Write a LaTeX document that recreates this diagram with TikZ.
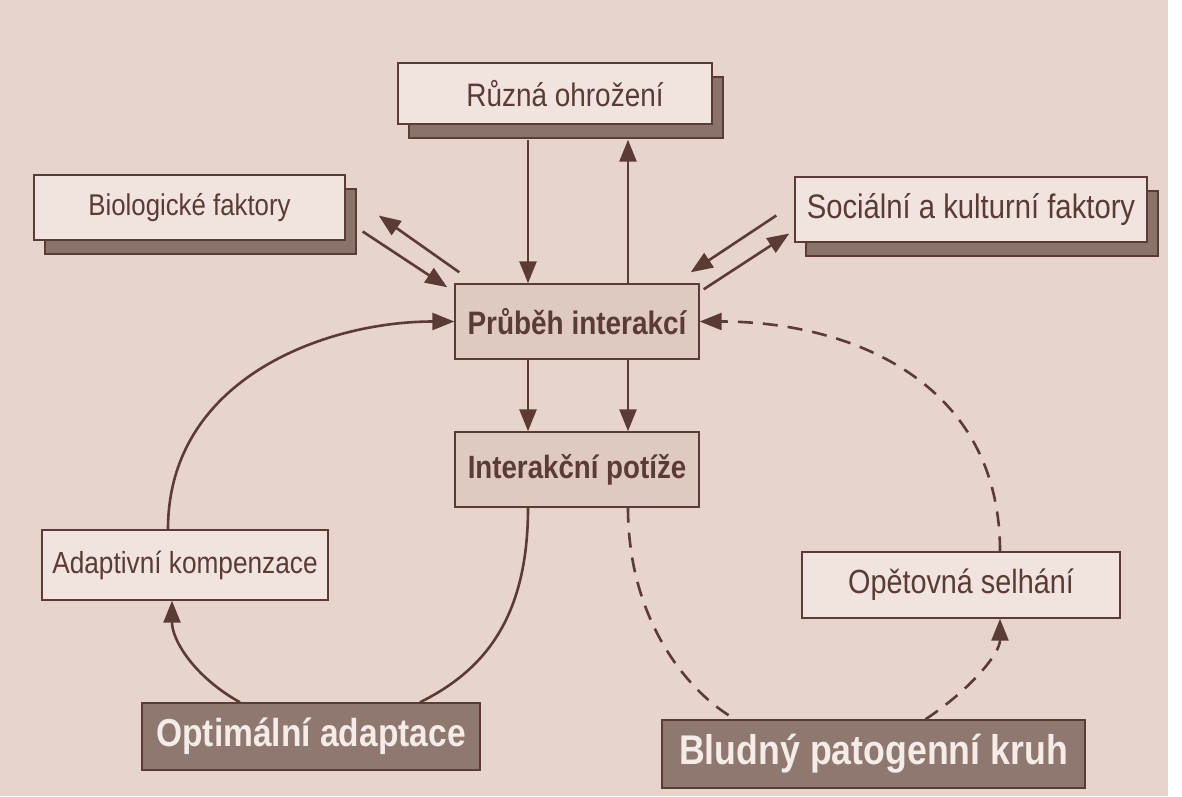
\documentclass[tikz,border=0pt]{standalone}
\usepackage{fontspec}
\setmainfont{Liberation Sans}[FakeStretch=0.86]
\usetikzlibrary{positioning}
\usetikzlibrary{arrows.meta}
\usetikzlibrary{shadows}
\definecolor{papir}{HTML}{E7D4CC}
\definecolor{cara}{HTML}{5A3B35}
\definecolor{svetla}{HTML}{F1E4DE}
\definecolor{stredni}{HTML}{DFCAC1}
\definecolor{tmava}{HTML}{8E7870}
\definecolor{stinc}{HTML}{8A736B}
\definecolor{pismo}{HTML}{F5ECE7}
\tikzset{
  box/.style={draw=cara, line width=1.4pt, fill=svetla, text=cara, inner sep=0pt},
  velikost/.style={font=\fontsize{#1}{#1}\selectfont},
  tucne/.style={font=\fontsize{#1}{#1}\selectfont\bfseries},
  stin/.style={drop shadow={shadow xshift=11pt, shadow yshift=-14pt, fill=stinc,
              draw=cara, opacity=1}},
  hlavni/.style={box, fill=stredni, minimum width=244pt, minimum height=75pt},
  kruh/.style={box, fill=tmava, text=pismo},
  sip/.style={draw=cara, line width=2.6pt, -{Triangle[length=22pt,width=17pt]}},
  cara/.style={draw=cara, line width=2.6pt},
  carky/.style={dash pattern=on 15pt off 10pt}
}
\begin{document}
\begin{tikzpicture}[x=1pt,y=-1pt]
\fill[papir] (0,0) rectangle (1182,796);
\fill[white] (1168,0) rectangle (1182,796);
\useasboundingbox (0,0) rectangle (1182,796);

\node[box, stin, velikost=32.5, minimum width=314pt, minimum height=61pt] (ohroz) at (555,93.5) {\hspace{20pt}Různá ohrožení};
\node[box, stin, velikost=30, minimum width=311pt, minimum height=65pt] (bio) at (189.5,207.5) {Biologické faktory};
\node[box, stin, velikost=34, minimum width=352pt, minimum height=65pt] (soc) at (971,209.5) {Sociální a kulturní faktory};
\node[hlavni, tucne=32.5] (prub) at (577,321.5) {Průběh interakcí};
\node[hlavni, tucne=32.2] (potize) at (577,469.5) {Interakční potíže};
\node[box, velikost=30.5, minimum width=286pt, minimum height=70pt] (adapt) at (185,565) {Adaptivní kompenzace};
\node[box, velikost=33.5, minimum width=318pt, minimum height=66pt] (opet) at (961,585) {Opětovná selhání};
\node[kruh, tucne=39, minimum width=338pt, minimum height=67pt] (optim) at (311,736.5) {Optimální adaptace};
\node[kruh, tucne=41.5, minimum width=423pt, minimum height=68pt] (blud) at (873.5,754) {Bludný patogenní kruh};

\coordinate (ohrozS) at ([yshift=-15pt]ohroz.south);
\draw[sip] ([xshift=-49pt]prub.north |- ohrozS) -- ([xshift=-49pt]prub.north);
\draw[sip] ([xshift=51pt]prub.north) -- ([xshift=51pt]prub.north |- ohrozS);
\draw[sip] ([xshift=-49pt]prub.south) -- ([xshift=-49pt]potize.north);
\draw[sip] ([xshift=51pt]prub.south) -- ([xshift=51pt]potize.north);

\draw[sip] ([xshift=17pt,yshift=-24pt]bio.east) -- ([xshift=-7pt,yshift=-4pt]prub.north west);
\draw[sip] ([xshift=5pt,yshift=11pt]prub.north west) -- ([xshift=33pt,yshift=-8pt]bio.east);
\draw[sip] ([xshift=-18pt,yshift=-6pt]soc.west) -- ([xshift=-9pt,yshift=11pt]prub.north east);
\draw[sip] ([xshift=4pt,yshift=-6pt]prub.north east) -- ([xshift=-5pt,yshift=-24pt]soc.west);

% optimalni adaptace
\draw[cara] ([xshift=-49pt]potize.south) .. controls +(0,115) and +(60,-30) .. ([xshift=109pt]optim.north);
\draw[sip] ([xshift=-71pt]optim.north) .. controls +(-45,-25) and +(0,40) .. ([xshift=-13pt]adapt.south);
\draw[sip] ([xshift=-17pt]adapt.north) .. controls +(0,-150) and +(-130,0) .. (prub.west);

% bludny kruh
\draw[cara, carky] ([xshift=51pt]potize.south) .. controls +(0,115) and +(-45,-25) .. ([xshift=-138pt]blud.north);
\draw[sip, carky] ([xshift=52pt]blud.north) .. controls +(45,-30) and +(0,35) .. ([xshift=39pt]opet.south);
\draw[sip, carky] ([xshift=39pt]opet.north) .. controls +(0,-170) and +(150,0) .. (prub.east);
\end{tikzpicture}
\end{document}
